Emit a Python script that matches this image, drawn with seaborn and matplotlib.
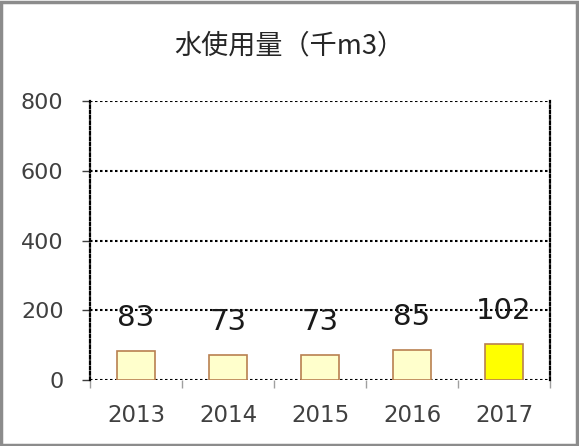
import numpy as np
import pandas as pd
import matplotlib
matplotlib.use('Agg')
import matplotlib.pyplot as plt
import seaborn as sns
from matplotlib.patches import Rectangle

# data
years = ['2013', '2014', '2015', '2016', '2017']
usage = [83, 73, 73, 85, 102]
bar_colors = ['#FFFFCC', '#FFFFCC', '#FFFFCC', '#FFFFCC', '#FFFF00']

sns.set_style('white')
plt.rcParams['font.family'] = ['DejaVu Sans', 'Noto Sans CJK JP']

df = pd.DataFrame({'year': years, 'usage': usage})

fig = plt.figure(figsize=(5.79, 4.46), dpi=100)
ax = fig.add_axes([0.1554, 0.148, 0.7946, 0.6255])

sns.barplot(data=df, x='year', y='usage', hue='year', palette=bar_colors, saturation=1,
            width=0.41, edgecolor='#B98050', linewidth=1.2, legend=False, ax=ax)

ax.set_xlim(-0.5, 4.5)
ax.set_ylim(0, 800)
ax.set_yticks([0, 200, 400, 600, 800])
ax.set_xlabel('')
ax.set_ylabel('')

# dotted grid + frame
ax.grid(False)
for v in [0, 200, 400, 600, 800]:
    ax.axhline(v, color='black', linestyle=(0, (1.2, 1.2)), linewidth=1.5, zorder=0)
for side in ['top', 'bottom']:
    ax.spines[side].set_visible(False)
for side in ['left', 'right']:
    ax.spines[side].set_visible(True)
    ax.spines[side].set_color('black')
    ax.spines[side].set_linestyle((0, (1.2, 1.2)))
    ax.spines[side].set_linewidth(1.6)

# ticks
ax.tick_params(axis='y', which='major', left=True, length=6, width=1, color='#404040',
               direction='out', labelsize=16, labelcolor='#404040', pad=13)
ax.tick_params(axis='x', which='major', bottom=False, labelsize=16.5,
               labelcolor='#404040', pad=14)
ax.set_xticks(np.arange(-0.5, 5, 1), minor=True)
ax.tick_params(axis='x', which='minor', bottom=True, length=6, width=1,
               color='#A0A0A0', direction='out')

# data labels
for i, v in enumerate(usage):
    ax.annotate(str(v), (i, v), xytext=(0, 18), textcoords='offset points',
                ha='center', va='baseline', fontsize=21, color='#1a1a1a')

fig.text(0.5, 0.897, '水使用量（千m3）', ha='center', va='center', fontsize=19.5,
         color='#262626', family=['Noto Sans CJK JP', 'DejaVu Sans'])

fig.patches.append(Rectangle((0.002, 0.003), 0.994, 0.992, transform=fig.transFigure,
                             fill=False, edgecolor='#8C8C8C', linewidth=2.5))

fig.savefig('out.png', dpi=100)
